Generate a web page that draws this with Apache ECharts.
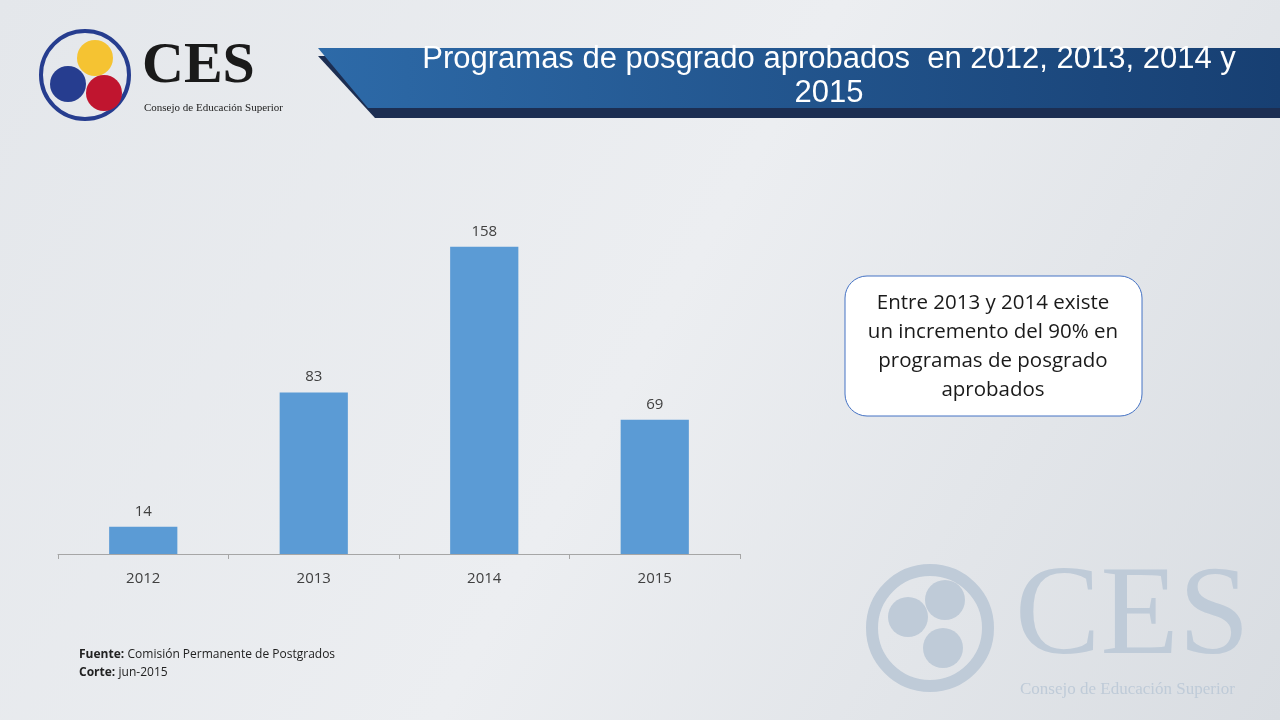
<!DOCTYPE html>
<html><head><meta charset="utf-8">
<script src="https://cdn.jsdelivr.net/npm/echarts@6/dist/echarts.min.js"></script>
<style>html,body{margin:0;padding:0}#c{width:1280px;height:720px}</style>
</head><body><div id="c"></div>
<script>
const categories = ['2012','2013','2014','2015'];
const values = [14, 83, 158, 69];
const titleText = 'Programas de posgrado aprobados  en 2012, 2013, 2014 y\n2015';
const noteText = 'Entre 2013 y 2014 existe\nun incremento del 90% en\nprogramas de posgrado\naprobados';

const chart = echarts.init(document.getElementById('c'));
chart.setOption({
  backgroundColor: {type:'linear',x:0,y:0,x2:1,y2:1,colorStops:[{offset:0,color:'#e4e7eb'},{offset:0.5,color:'#eceef1'},{offset:1,color:'#d9dde2'}]},
  grid: {left:58, right:540, top:204, bottom:166},
  xAxis: {type:'category', data:categories,
    axisLine:{lineStyle:{color:'#a6a6a6'}}, axisTick:{show:true,lineStyle:{color:'#a6a6a6'}},
    axisLabel:{color:'#404040', fontSize:15, fontFamily:'Open Sans', margin:17}},
  yAxis: {type:'value', min:0, max:180, show:false, splitLine:{show:false}},
  series: [{type:'bar', data:values, barWidth:'40%', itemStyle:{color:'#5b9bd5'},
    label:{show:true, position:'top', color:'#404040', fontSize:15, fontFamily:'Open Sans', distance:8}}],
  graphic: [
    {type:'polygon', shape:{points:[[318,56],[1280,56],[1280,118],[375,118]]}, style:{fill:'#1c2e52'}, z:1},
    {type:'polygon', shape:{points:[[318,48],[1280,48],[1280,108],[368,108]]}, style:{fill:{type:'linear',x:0,y:0,x2:1,y2:0,colorStops:[{offset:0,color:'#2d6aa8'},{offset:1,color:'#173f72'}]}}, z:2},
    {type:'text', x:829, y:42, style:{text:titleText, textAlign:'center', fill:'#fff', font:'31px Arial', lineHeight:34}, z:3},
    {type:'circle', shape:{cx:95,cy:58,r:18}, style:{fill:'#f5c332'}, z:4},
    {type:'circle', shape:{cx:104,cy:93,r:18}, style:{fill:'#c0152f'}, z:4},
    {type:'circle', shape:{cx:68,cy:84,r:18}, style:{fill:'#263d8f'}, z:4},
    {type:'circle', shape:{cx:85,cy:75,r:44}, style:{fill:'none',stroke:'#263d8f',lineWidth:4}, z:3},
    {type:'text', x:142, y:38, style:{text:'CES', fill:'#1a1a1a', font:'bold 58px "Liberation Serif"'}, z:4},
    {type:'text', x:144, y:103, style:{text:'Consejo de Educación Superior', fill:'#222', font:'11px "Liberation Serif"'}, z:4},
    {type:'circle', shape:{cx:930,cy:628,r:58}, style:{fill:'none',stroke:'#bfcbd8',lineWidth:12}, z:1},
    {type:'circle', shape:{cx:908,cy:617,r:20}, style:{fill:'#bfcbd8'}, z:1},
    {type:'circle', shape:{cx:945,cy:600,r:20}, style:{fill:'#bfcbd8'}, z:1},
    {type:'circle', shape:{cx:943,cy:648,r:20}, style:{fill:'#bfcbd8'}, z:1},
    {type:'text', x:1015, y:555, style:{text:'CES', fill:'#bfcbd8', font:'128px "Liberation Serif"'}, z:1},
    {type:'text', x:1020, y:681, style:{text:'Consejo de Educación Superior', fill:'#bfcbd8', font:'17px "Liberation Serif"'}, z:1},
    {type:'rect', shape:{x:845,y:276,width:297,height:140,r:22}, style:{fill:'#fff',stroke:'#4472c4',lineWidth:1}, z:3},
    {type:'text', x:993, y:289, style:{text:noteText, textAlign:'center', fill:'#1a1a1a', font:'20.5px "Open Sans"', lineHeight:29}, z:4},
    {type:'text', x:79, y:646, style:{rich:{b:{font:'bold 12px "Open Sans"',fill:'#222'},n:{font:'12px "Open Sans"',fill:'#222'}}, text:'{b|Fuente:} {n|Comisión Permanente de Postgrados}\n{b|Corte:} {n|jun-2015}', lineHeight:18}, z:4}
  ]
});
</script></body></html>
